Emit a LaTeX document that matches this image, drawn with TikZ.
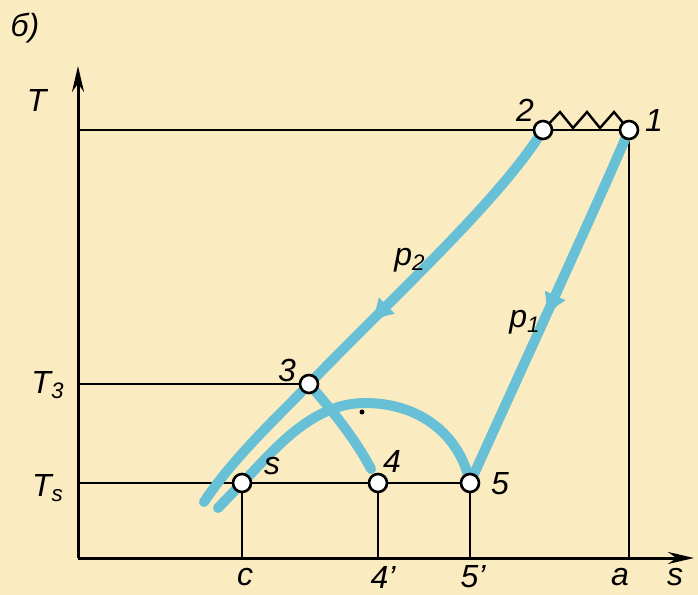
\documentclass[tikz,border=0pt]{standalone}
\usepackage{fontspec}
\setmainfont{Liberation Sans}
\usetikzlibrary{arrows.meta,decorations.markings}

\definecolor{papir}{RGB}{251,235,192}
\definecolor{kek}{RGB}{104,192,214}

\tikzset{
  knot/.style={circle, draw, fill=white, line width=1.3pt, minimum size=9pt, inner sep=0pt},
  vonal/.style={line width=1pt},
  folyamat/.style={kek, line width=5pt, line cap=round},
  felirat/.style={font=\fontsize{16}{18}\selectfont\itshape, inner sep=1pt},
  nyil/.style={postaction={decorate},
    decoration={markings, mark=at position #1 with {\arrow[kek]{Latex[length=12pt,width=12pt]}}}}
}

\begin{document}
\begin{tikzpicture}[x=0.5pt, y=-0.5pt, >={Stealth[length=13pt,width=6pt]}]
    % Hatter
    \fill[papir] (0,0) rectangle (698,595);

    % Tengelyek
    \coordinate (O) at (78,558);
    \draw[->, line width=1.5pt] (O) -- (78,66) node[felirat, left=14pt, pos=0.93] (lT) {T};
    \draw[->, line width=1.5pt] (O) -- (694,558);
    \node[felirat] (lb) at (25,28) {б)};

    % Pontok koordinatai
    \coordinate (1) at (629,130);
    \coordinate (2) at (543,130);
    \coordinate (3) at (309,384);
    \coordinate (s) at (242,483);
    \coordinate (4) at (378,483);
    \coordinate (5) at (470,483);

    % Vetuletek a tengelyekre
    \coordinate (t1) at (78,130);
    \coordinate (t3) at (78,384);
    \coordinate (ts) at (78,483);
    \coordinate (sc) at (242,558);
    \coordinate (s4) at (378,558);
    \coordinate (s5) at (470,558);
    \coordinate (sa) at (629,558);

    % Fekete segedvonalak
    \draw[vonal] (t1) -- (1) -- (sa);
    \draw[vonal] (t3) -- (3);
    \draw[vonal] (ts) -- (5);
    \draw[vonal] (s) -- (sc);
    \draw[vonal] (4) -- (s4);
    \draw[vonal] (5) -- (s5);

    % Cikkcakk 2 es 1 kozott
    \draw[line width=1.2pt] (2) -- ++(17,-18) -- ++(13,16) -- ++(14,-16) -- ++(13,16)
      -- ++(14,-16) -- (1);

    % Folyamatok (kek)
    \coordinate (p2v) at (204,502);
    \coordinate (kv) at (218,508);
    \coordinate (csucs) at (365,403);
    \coordinate (v4) at (371,469);
    \draw[folyamat, nyil=0.75] (2) .. controls (500,200) and (390,300) .. (3);
    \draw[folyamat] (3) .. controls (285,410) and (235,455) .. (p2v);
    \draw[folyamat, nyil=0.53] (1) .. controls (604,190) and (505,405) .. (5);
    \draw[folyamat] (kv) -- (s) .. controls (272,453) and (310,403) .. (csucs)
      .. controls (420,403) and (460,435) .. (5);
    \draw[folyamat] (3) .. controls (332,410) and (356,440) .. (v4);
    \fill (362,412) circle (2.5);

    % Pontok jelolese
    \foreach \p in {1,2,3,s,4,5}
      \node[knot] (k\p) at (\p) {};

    \node[felirat] (l2) at (525,110) {2};
    \node[felirat] (l1) at (654,120) {1};
    \node[felirat] (l3) at (287,370) {3};
    \node[felirat] (ls) at (272,466) {s};
    \node[felirat] (l4) at (392,461) {4};
    \node[felirat] (l5) at (500,484) {5};
    \node[felirat] (lp2) at (410,260) {p\textsubscript{2}};
    \node[felirat] (lp1) at (525,322) {p\textsubscript{1}};

    % Tengelyfeliratok
    \node[felirat] (lT3) at (48,385) {T\textsubscript{3}};
    \node[felirat] (lTs) at (48,488) {T\textsubscript{s}};
    \node[felirat] (lc) at (245,577) {c};
    \node[felirat] (l4v) at (383,577) {4'};
    \node[felirat] (l5v) at (473,577) {5'};
    \node[felirat] (la) at (620,577) {a};
    \node[felirat] (lsa) at (675,577) {s};
\end{tikzpicture}
\end{document}
